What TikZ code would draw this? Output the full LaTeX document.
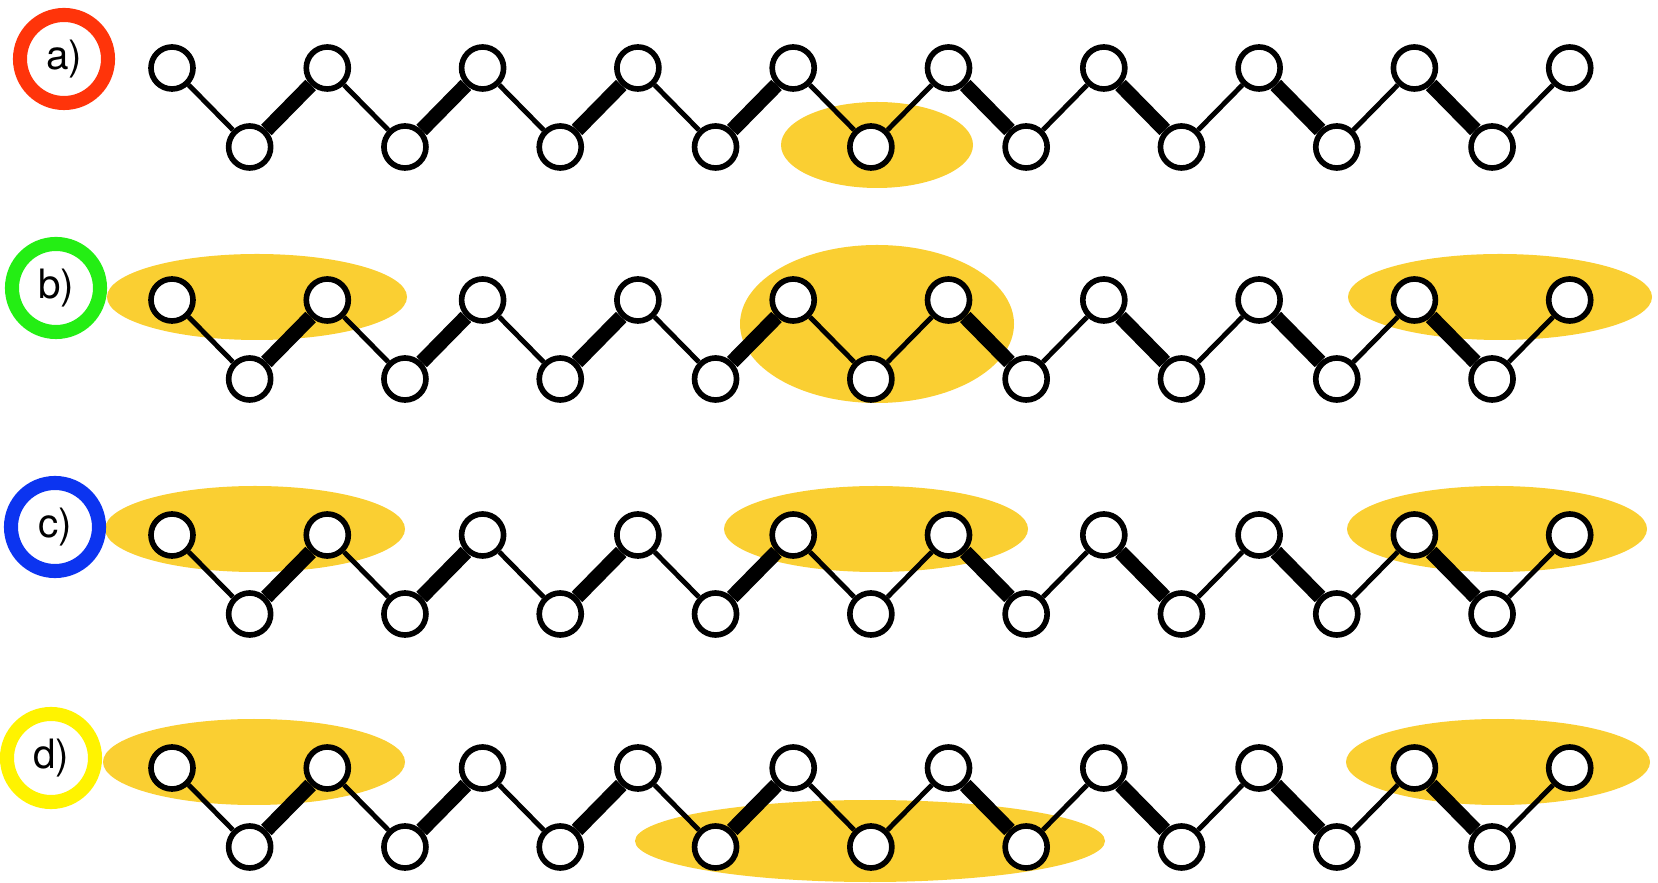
\documentclass[tikz,border=0pt]{standalone}
\usepackage{fontspec}
\setmainfont{TeX Gyre Heros}
\definecolor{soliton}{RGB}{250,207,50}
\definecolor{ringred}{RGB}{255,52,10}
\definecolor{ringgreen}{RGB}{36,238,20}
\definecolor{ringblue}{RGB}{12,52,240}
\definecolor{ringyellow}{RGB}{255,243,0}

\begin{document}
\begin{tikzpicture}[
			x=0.01cm,y=-0.01cm,
			atom/.style={
				circle,
				draw,
				line width=1.6pt,
				fill=white,
				minimum size=0.42cm,
				inner sep=0pt,
			},
			sbond/.style={line width=1.4pt},
			dbond/.style={line width=4.2pt},
			tag/.style={
				circle,
				draw,
				line width=4pt,
				minimum size=0.88cm,
				inner sep=0pt,
				font=\fontsize{11.5}{13}\selectfont,
			},
			blob/.style={fill=soliton},
		]
		\useasboundingbox (0,0) rectangle (1658,883);

		% defect clouds
		\fill[blob] (877,145) ellipse [x radius=96,y radius=43];

		\fill[blob] (257,297) ellipse [x radius=150,y radius=43];
		\fill[blob] (877,324) ellipse [x radius=137,y radius=79];
		\fill[blob] (1500,297) ellipse [x radius=152,y radius=43];

		\fill[blob] (255,529) ellipse [x radius=150,y radius=43];
		\fill[blob] (876,529) ellipse [x radius=152,y radius=43];
		\fill[blob] (1497,529) ellipse [x radius=150,y radius=43];

		\fill[blob] (254,762) ellipse [x radius=151,y radius=43];
		\fill[blob] (870,841) ellipse [x radius=235,y radius=41];
		\fill[blob] (1498,762) ellipse [x radius=152,y radius=43];

		% row labels
		\node[tag,draw=ringred] (la) at (64,59) {a)};
		\node[tag,draw=ringgreen] (lb) at (56,288) {b)};
		\node[tag,draw=ringblue] (lc) at (55,527) {c)};
		\node[tag,draw=ringyellow] (ld) at (51,758) {d)};

		% chains: 19 sites each, bond order flips at site 9
		\foreach \r/\y in {a/68,b/300,c/535,d/768}{
			\foreach \k in {0,...,18}{
				\pgfmathsetmacro\ax{172+77.65*\k}
				\pgfmathsetmacro\ay{\y+79*mod(\k,2)}
				\node[atom] (\r\k) at (\ax,\ay) {};
			}
			\foreach \k in {0,...,17}{
				\pgfmathtruncatemacro\n{\k+1}
				\pgfmathtruncatemacro\thick{or(and(\k<9,isodd(\k)),and(\k>9,iseven(\k)))}
				\ifnum\thick=1
					\draw[dbond] (\r\k) -- (\r\n);
				\else
					\draw[sbond] (\r\k) -- (\r\n);
				\fi
			}
		}

	\end{tikzpicture}
\end{document}
